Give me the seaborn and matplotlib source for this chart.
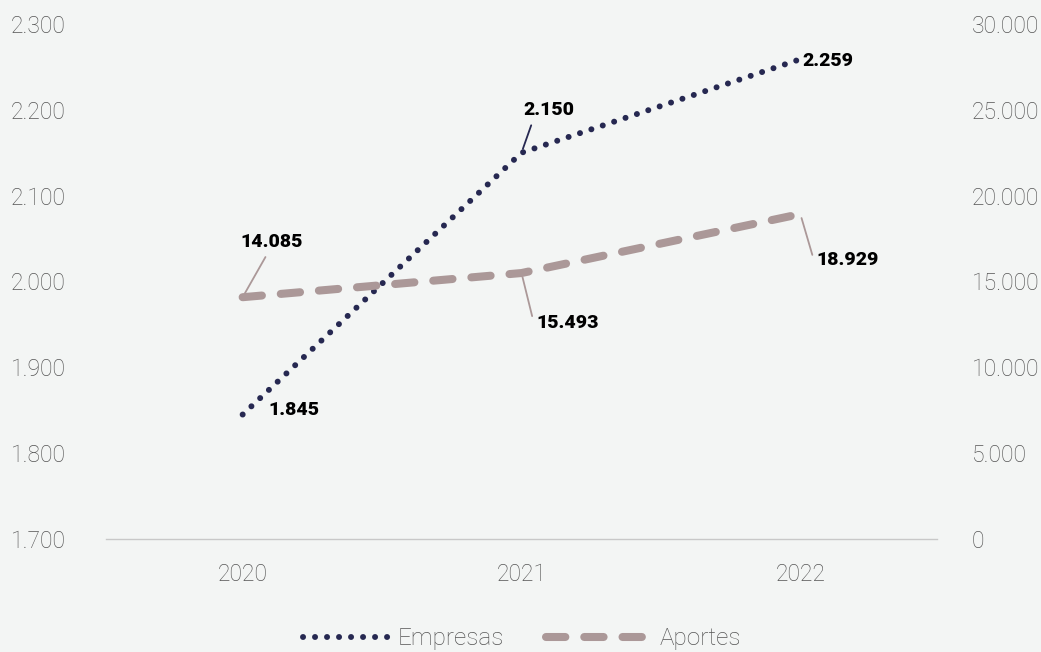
import matplotlib
matplotlib.use("Agg")
import matplotlib.pyplot as plt
import matplotlib.ticker as mticker
from matplotlib.legend_handler import HandlerLine2D
import seaborn as sns
import pandas as pd

# Series
years = ["2020", "2021", "2022"]
empresas = [1845, 2150, 2259]
aportes = [14085, 15493, 18929]

# Tick values for both axes
left_ticks = [1700, 1800, 1900, 2000, 2100, 2200, 2300]
right_ticks = [0, 5000, 10000, 15000, 20000, 25000, 30000]

df = pd.DataFrame({"Año": years, "Empresas": empresas, "Aportes": aportes})

BG = "#f3f5f4"
NAVY = "#262851"
MAUVE = "#ab9898"
TICK_COLOR = "#555555"

sns.set_theme(style="white")
plt.rcParams["font.family"] = ["Roboto", "DejaVu Sans"]
plt.rcParams["lines.dash_capstyle"] = "round"
plt.rcParams["lines.solid_capstyle"] = "round"


def thousands(v, _pos=None):
    return f"{int(round(v)):,}".replace(",", ".")


class ShortLineHandler(HandlerLine2D):
    """Legend handle drawn shorter, with a small gap before its label."""

    def __init__(self, frac, gap=0.0, **kw):
        super().__init__(**kw)
        self.frac = frac
        self.gap = gap

    def create_artists(self, legend, orig_handle, xdescent, ydescent,
                       width, height, fontsize, trans):
        w = width * self.frac
        start = width - w - width * self.gap
        return super().create_artists(legend, orig_handle,
                                      xdescent - start, ydescent,
                                      w, height, fontsize, trans)


fig = plt.figure(figsize=(10.41, 6.52), dpi=100, facecolor=BG)
ax = fig.add_axes([106 / 1041, 113 / 652, 831 / 1041, 515 / 652])
ax.set_facecolor(BG)
ax2 = ax.twinx()

sns.lineplot(data=df, x="Año", y="Empresas", ax=ax, color=NAVY, lw=4.3,
             legend=False, sort=False)
sns.lineplot(data=df, x="Año", y="Aportes", ax=ax2, color=MAUVE, lw=5.8,
             legend=False, sort=False)
l_emp = ax.lines[0]
l_emp.set_linestyle((0, (0.01, 2.0)))
l_apo = ax2.lines[0]
l_apo.set_linestyle((0, (2.4, 2.35)))

ax.set_xlim(-0.49, 2.49)
ax.set_ylim(1700, 2300)
ax2.set_ylim(0, 30000)
ax.set_yticks(left_ticks)
ax2.set_yticks(right_ticks)
ax.yaxis.set_major_formatter(mticker.FuncFormatter(thousands))
ax2.yaxis.set_major_formatter(mticker.FuncFormatter(thousands))

for a in (ax, ax2):
    for s in a.spines.values():
        s.set_visible(False)
    a.tick_params(length=0, labelsize=16.5, labelcolor=TICK_COLOR)
    a.set_xlabel("")
    a.set_ylabel("")
    for t in a.get_yticklabels() + a.get_xticklabels():
        t.set_fontweight("light")
ax.spines["bottom"].set_visible(True)
ax.spines["bottom"].set_color("#c8c8c8")
ax.spines["bottom"].set_linewidth(1.0)
ax.tick_params(axis="y", pad=29)
ax2.tick_params(axis="y", pad=25)
ax.tick_params(axis="x", pad=17)

lab_kw = dict(fontsize=14, fontweight=900, color="black",
              family=["Roboto", "DejaVu Sans"], va="center", ha="center")


def leader(color, relpos):
    return dict(arrowstyle="-", color=color, lw=1.3, shrinkA=2, shrinkB=3,
                relpos=relpos)


# Empresas labels
ax.annotate(thousands(empresas[0]), (0, empresas[0]), xytext=(37, 3),
            textcoords="offset points", **lab_kw)
ax.annotate(thousands(empresas[1]), (1, empresas[1]), xytext=(19.5, 30.5),
            textcoords="offset points", arrowprops=leader(NAVY, (0.2, 0.0)),
            **lab_kw)
ax.annotate(thousands(empresas[2]), (2, empresas[2]), xytext=(19.5, -1.5),
            textcoords="offset points", **lab_kw)

# Aportes labels
ax2.annotate(thousands(aportes[0]), (0, aportes[0]), xytext=(21, 39.5),
             textcoords="offset points", arrowprops=leader(MAUVE, (0.45, 0.0)),
             **lab_kw)
ax2.annotate(thousands(aportes[1]), (1, aportes[1]), xytext=(33, -36),
             textcoords="offset points", arrowprops=leader(MAUVE, (-0.05, 0.7)),
             **lab_kw)
ax2.annotate(thousands(aportes[2]), (2, aportes[2]), xytext=(34, -33),
             textcoords="offset points", arrowprops=leader(MAUVE, (-0.05, 0.6)),
             **lab_kw)

leg = fig.legend([l_emp, l_apo], ["Empresas", "Aportes"], loc="center",
                 bbox_to_anchor=(512 / 1041, 1 - 639 / 652), ncol=2,
                 frameon=False, handlelength=4.5, handletextpad=0.2,
                 columnspacing=1.7, prop={"size": 17.5, "weight": "light"},
                 handler_map={l_emp: ShortLineHandler(0.79, gap=0.03),
                              l_apo: ShortLineHandler(0.99)})
for t in leg.get_texts():
    t.set_color(TICK_COLOR)

fig.savefig("out.png", dpi=100, facecolor=BG)
